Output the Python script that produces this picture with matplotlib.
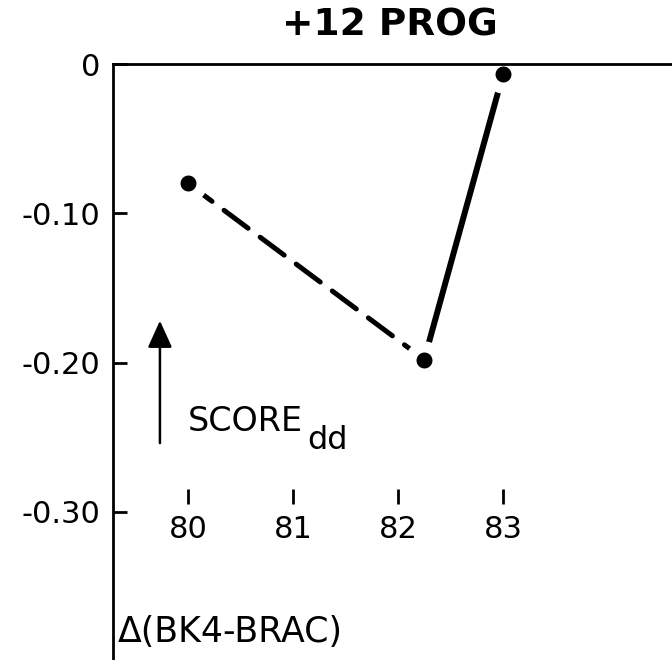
import matplotlib
matplotlib.use("Agg")
import matplotlib.pyplot as plt

# score vs year (dashed first segment, solid second)
years = [80.0, 82.25, 83.0]
score = [-0.08, -0.198, -0.007]

yticks = [0, -0.10, -0.20, -0.30]
ytick_labels = ["0", "-0.10", "-0.20", "-0.30"]
xticks = [80, 81, 82, 83]
xtick_labels = ["80", "81", "82", "83"]

fig = plt.figure(figsize=(6.72, 6.60), dpi=100)
# axes: left edge is the y axis, top edge is the zero line
ax = fig.add_axes([113/672, 0.0, 1 - 113/672, 1 - 64/660])
ax.set_xlim(79.286, 84.61)
ax.set_ylim(-0.3993, 0.0)

for s in ["right", "bottom"]:
    ax.spines[s].set_visible(False)
ax.spines["left"].set_linewidth(2.0)
ax.spines["top"].set_linewidth(2.0)

ax.set_xticks([])
ax.set_yticks(yticks)
ax.set_yticklabels(ytick_labels)
ax.tick_params(axis="y", direction="in", length=10, width=2.0, pad=9,
               labelsize=22)

# x ticks drawn as short marks floating above the labels
ax.vlines(xticks, -0.295, -0.285, color="black", lw=2.0, clip_on=False)
for xv, lab in zip(xticks, xtick_labels):
    ax.text(xv, -0.312, lab, ha="center", va="center", fontsize=22)

# segments
ax.plot(years[:2], score[:2], color="black", lw=3.6, dashes=(6, 3),
        dash_capstyle="round", clip_on=False, zorder=2)
ax.plot(years[1:], score[1:], color="black", lw=4.3, solid_capstyle="round",
        clip_on=False, zorder=2)
# white rim keeps a small gap between the dots and the lines
ax.plot(years, score, "o", color="black", ms=19.5, mec="white", mew=8,
        clip_on=False, zorder=2.4)

ax.annotate("", xy=(79.733, -0.172), xytext=(79.733, -0.254),
            arrowprops=dict(arrowstyle="-|>,head_length=0.75,head_width=0.34",
                            color="black", lw=1.8, shrinkA=0, shrinkB=0,
                            mutation_scale=22))
ax.text(80.0, -0.246, "SCORE", fontsize=24, ha="left", va="baseline")
ax.text(81.14, -0.258, "dd", fontsize=23, ha="left", va="baseline")

ax.text(79.33, -0.387, "\u0394(BK4-BRAC)", fontsize=25, ha="left",
        va="baseline")

fig.text(390/672, 1 - 25/660, "+12 PROG", fontsize=27, fontweight="bold",
         ha="center", va="center")

fig.savefig("out.png", dpi=100, facecolor="white")
